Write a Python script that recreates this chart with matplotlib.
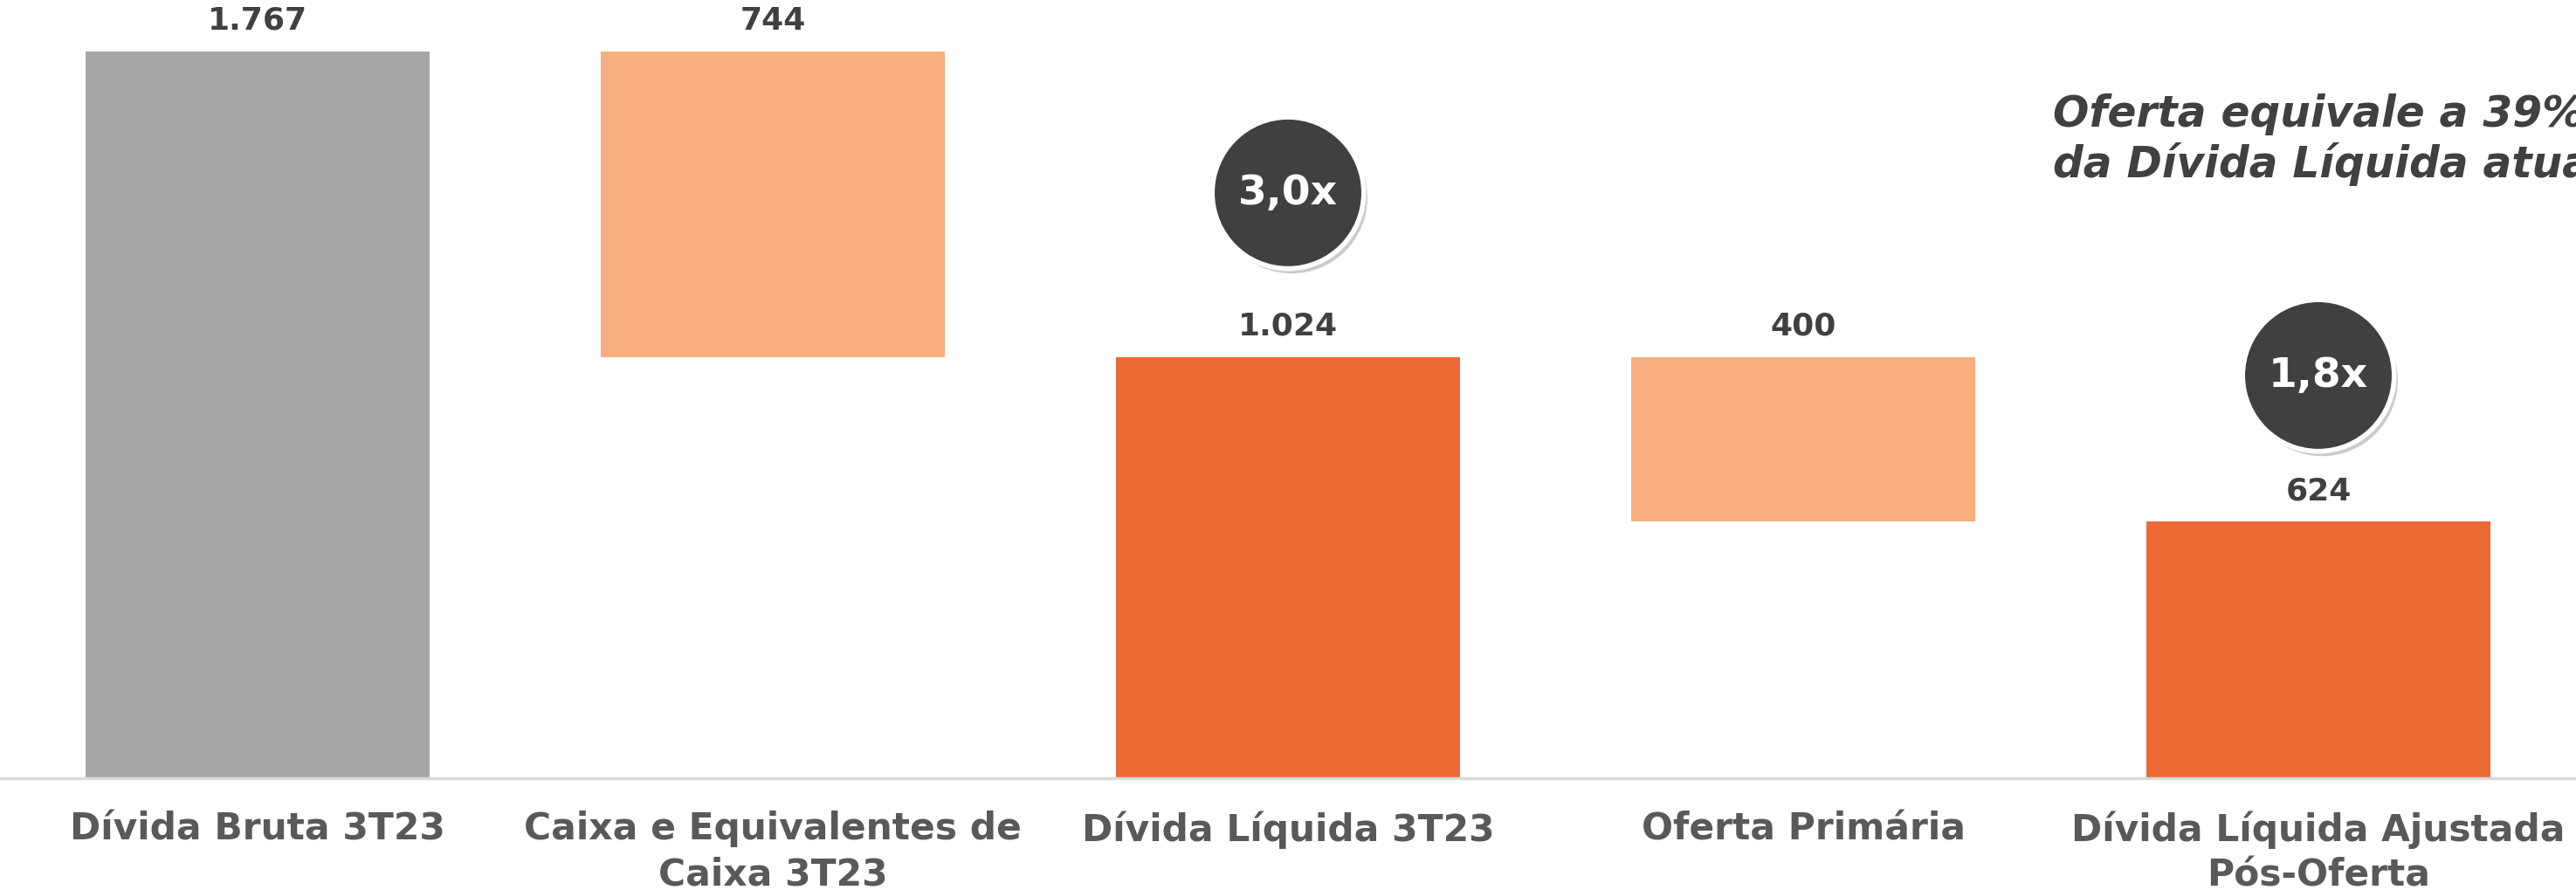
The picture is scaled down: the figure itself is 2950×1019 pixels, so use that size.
import matplotlib.pyplot as plt
import matplotlib.patheffects as pe

plt.rcParams['font.family'] = ['DejaVu Sans']

categories = ['Dívida Bruta 3T23', 'Caixa e Equivalentes de\nCaixa 3T23', 'Dívida Líquida 3T23',
              'Oferta Primária', 'Dívida Líquida Ajustada\nPós-Oferta']
values = [1767, 744, 1024, 400, 624]
kinds = ['total', 'decrease', 'total', 'decrease', 'total']
badges = {2: '3,0x', 4: '1,8x'}
badge_y = {2: 1423, 4: 979}
note = 'Oferta equivale a 39%\nda Dívida Líquida atual'

colors = {'total': '#ED6934', 'decrease': '#F8AF7F'}

# waterfall bases
bottoms = []
running = 0
for v, k in zip(values, kinds):
    if k == 'total':
        bottoms.append(0)
        running = v
    else:
        running = running - v
        bottoms.append(running)
bar_colors = [colors[k] for k in kinds]
bar_colors[0] = '#A6A6A6'

fig = plt.figure(figsize=(29.5, 10.2), dpi=100)
ax = fig.add_axes([0, 0.1255, 1, 0.8745])
x = list(range(len(values)))
ax.bar(x, values, bottom=bottoms, width=0.667, color=bar_colors, zorder=2)

for i in x:
    top = bottoms[i] + values[i]
    lbl = f'{values[i]:,}'.replace(',', '.')
    ax.annotate(lbl, (i, top), xytext=(0, 26), textcoords='offset points',
                ha='center', va='center', fontsize=26, fontweight='bold', color='#404040')

for i, txt in badges.items():
    ax.scatter([i], [badge_y[i]], s=15600, color='#404040', edgecolors='white', linewidths=4, zorder=5,
               path_effects=[pe.SimplePatchShadow(offset=(3, -4), shadow_rgbFace='#999999', alpha=0.5), pe.Normal()])
    ax.text(i, badge_y[i], txt, ha='center', va='center', fontsize=34, fontweight='bold',
            color='white', zorder=6)

ax.set_xlim(-0.5, 4.5)
ax.set_ylim(0, 1894)
for s in ['top', 'right', 'left']:
    ax.spines[s].set_visible(False)
ax.spines['bottom'].set_color('#D9D9D9')
ax.spines['bottom'].set_linewidth(2.5)
ax.set_yticks([])
ax.set_xticks(x)
ax.set_xticklabels(categories, fontsize=30.5, fontweight='bold', color='#595959', linespacing=1.3)
ax.tick_params(axis='x', length=0, pad=26)

fig.text(0.797, 0.843, note, ha='left', va='center', fontsize=35, fontweight='bold',
         fontstyle='italic', color='#404040', linespacing=1.2)

fig.savefig('out.png', dpi=100)
